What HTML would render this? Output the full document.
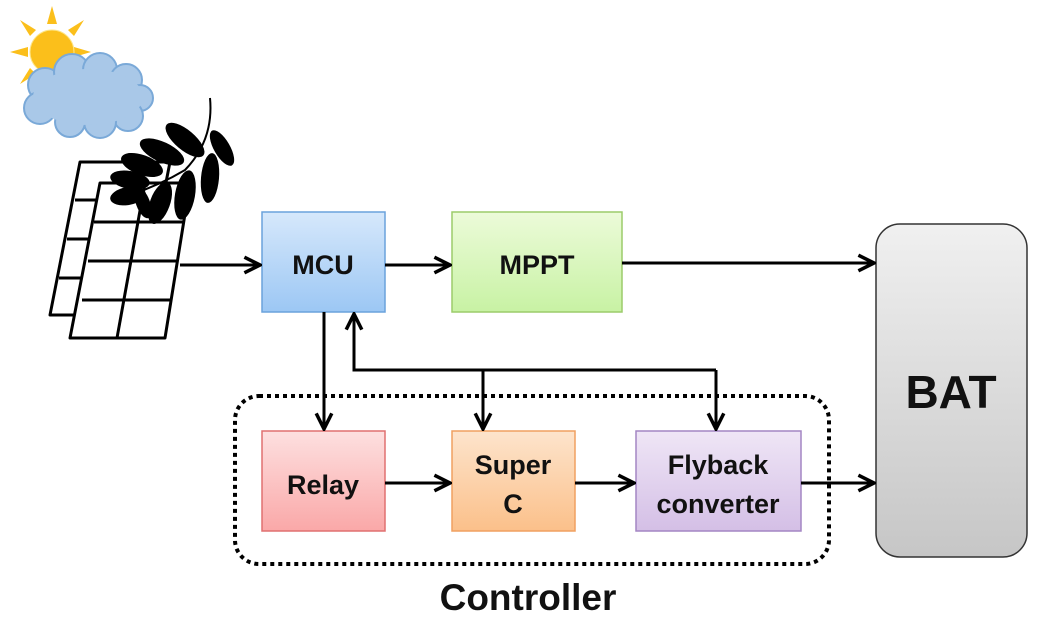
<!DOCTYPE html>
<html><head><style>
body{margin:0;background:#fff;}
svg{display:block}
text{font-family:"Liberation Sans",sans-serif;font-weight:bold;fill:#111;}
</style></head><body>
<svg width="1042" height="624" viewBox="0 0 1042 624" xmlns="http://www.w3.org/2000/svg">
<defs>
<linearGradient id="gb" x1="0" y1="0" x2="0" y2="1"><stop offset="0" stop-color="#d6e8fb"/><stop offset="1" stop-color="#9cc7f4"/></linearGradient>
<linearGradient id="gg" x1="0" y1="0" x2="0" y2="1"><stop offset="0" stop-color="#ecfbd9"/><stop offset="1" stop-color="#c8f2a4"/></linearGradient>
<linearGradient id="gr" x1="0" y1="0" x2="0" y2="1"><stop offset="0" stop-color="#fde0e0"/><stop offset="1" stop-color="#faa8a8"/></linearGradient>
<linearGradient id="go" x1="0" y1="0" x2="0" y2="1"><stop offset="0" stop-color="#fde4cc"/><stop offset="1" stop-color="#fbc08a"/></linearGradient>
<linearGradient id="gp" x1="0" y1="0" x2="0" y2="1"><stop offset="0" stop-color="#efe6f6"/><stop offset="1" stop-color="#d4bfe6"/></linearGradient>
<linearGradient id="gk" x1="0" y1="0" x2="0" y2="1"><stop offset="0" stop-color="#f0f0f0"/><stop offset="1" stop-color="#c6c6c6"/></linearGradient>
<marker id="a" viewBox="0 0 10 10" refX="9" refY="5" markerWidth="6.5" markerHeight="6.5" orient="auto"><path d="M1,1 L9,5 L1,9" fill="none" stroke="#000" stroke-width="1.8"/></marker>
</defs>
<!-- sun -->
<g fill="#fbbf1b">
<polygon points="52,6 57,24 47,24"/><polygon points="10,52 28,47 28,57"/><polygon points="20,20 36,30 30,36"/><polygon points="84,20 74,36 68,30"/><polygon points="91,52 74,57 74,47"/><polygon points="20,84 30,68 36,74"/>
<circle cx="52" cy="52" r="22" stroke="#fde68a" stroke-width="1"/>
</g>
<!-- cloud -->
<g fill="#a9c8e8" stroke="#7aa9d8" stroke-width="2">
<circle cx="45" cy="85" r="17"/><circle cx="72" cy="72" r="18"/><circle cx="100" cy="70" r="17"/><circle cx="126" cy="80" r="16"/><circle cx="140" cy="98" r="13"/><circle cx="128" cy="116" r="15"/><circle cx="100" cy="122" r="16"/><circle cx="70" cy="122" r="15"/><circle cx="40" cy="108" r="16"/>
</g>
<g fill="#a9c8e8"><ellipse cx="88" cy="97" rx="55" ry="28"/></g>
<!-- panels -->
<g fill="#fff" stroke="#000" stroke-width="3" stroke-linejoin="round">
<polygon points="80,162 170,162 140,315 50,315"/>
<line x1="75" y1="200" x2="100" y2="200"/><line x1="67" y1="239" x2="92" y2="239"/><line x1="59" y1="278" x2="84" y2="278"/>
<polygon points="100,183 190,183 165,338 70,338"/>
<line x1="145" y1="183" x2="117" y2="338"/>
<line x1="94" y1="222" x2="184" y2="222"/><line x1="88" y1="261" x2="177" y2="261"/><line x1="82" y1="300" x2="171" y2="300"/>
</g>
<!-- leaves -->
<g fill="#000">
<path d="M210,98 Q214,140 185,170 Q160,185 130,195" fill="none" stroke="#000" stroke-width="2"/>
<ellipse cx="185" cy="140" rx="24" ry="10" transform="rotate(40 185 140)"/>
<ellipse cx="222" cy="148" rx="20" ry="8" transform="rotate(60 222 148)"/>
<ellipse cx="162" cy="152" rx="24" ry="10" transform="rotate(25 162 152)"/>
<ellipse cx="210" cy="178" rx="25" ry="9" transform="rotate(95 210 178)"/>
<ellipse cx="142" cy="165" rx="22" ry="10" transform="rotate(20 142 165)"/>
<ellipse cx="185" cy="195" rx="25" ry="10" transform="rotate(100 185 195)"/>
<ellipse cx="130" cy="180" rx="20" ry="9" transform="rotate(10 130 180)"/>
<ellipse cx="160" cy="203" rx="22" ry="10" transform="rotate(110 160 203)"/>
<ellipse cx="128" cy="196" rx="18" ry="9" transform="rotate(-10 128 196)"/>
<ellipse cx="143" cy="203" rx="16" ry="7" transform="rotate(70 143 203)"/>
</g>
<!-- dotted controller -->
<rect x="235" y="396" width="594" height="168" rx="24" fill="none" stroke="#000" stroke-width="4" stroke-dasharray="4,4"/>
<!-- boxes -->
<rect x="262" y="212" width="123" height="100" fill="url(#gb)" stroke="#6aa2dc" stroke-width="1.5"/>
<rect x="452" y="212" width="170" height="100" fill="url(#gg)" stroke="#9ccc6a" stroke-width="1.5"/>
<rect x="262" y="431" width="123" height="100" fill="url(#gr)" stroke="#e07070" stroke-width="1.5"/>
<rect x="452" y="431" width="123" height="100" fill="url(#go)" stroke="#f0a060" stroke-width="1.5"/>
<rect x="636" y="431" width="165" height="100" fill="url(#gp)" stroke="#a486c4" stroke-width="1.5"/>
<rect x="876" y="224" width="151" height="333" rx="24" fill="url(#gk)" stroke="#333" stroke-width="1.5"/>
<!-- labels -->
<text x="323" y="274" font-size="27" text-anchor="middle">MCU</text>
<text x="537" y="274" font-size="27" text-anchor="middle">MPPT</text>
<text x="323" y="494" font-size="27" text-anchor="middle">Relay</text>
<text x="513" y="474" font-size="27" text-anchor="middle">Super</text>
<text x="513" y="513" font-size="27" text-anchor="middle">C</text>
<text x="718" y="474" font-size="27" text-anchor="middle">Flyback</text>
<text x="718" y="513" font-size="27" text-anchor="middle">converter</text>
<text x="951" y="408" font-size="46" text-anchor="middle">BAT</text>
<text x="528" y="610" font-size="37" text-anchor="middle">Controller</text>
<!-- connectors -->
<g stroke="#000" stroke-width="3" fill="none">
<line x1="180" y1="265" x2="260" y2="265" marker-end="url(#a)"/>
<line x1="385" y1="265" x2="450" y2="265" marker-end="url(#a)"/>
<line x1="622" y1="263" x2="874" y2="263" marker-end="url(#a)"/>
<line x1="801" y1="483" x2="874" y2="483" marker-end="url(#a)"/>
<line x1="385" y1="483" x2="450" y2="483" marker-end="url(#a)"/>
<line x1="575" y1="483" x2="634" y2="483" marker-end="url(#a)"/>
<line x1="324" y1="312" x2="324" y2="429" marker-end="url(#a)"/>
<polyline points="716,370 354,370 354,314" marker-end="url(#a)"/>
<line x1="483" y1="370" x2="483" y2="429" marker-end="url(#a)"/>
<line x1="716" y1="370" x2="716" y2="429" marker-end="url(#a)"/>
</g>
</svg>
</body></html>
